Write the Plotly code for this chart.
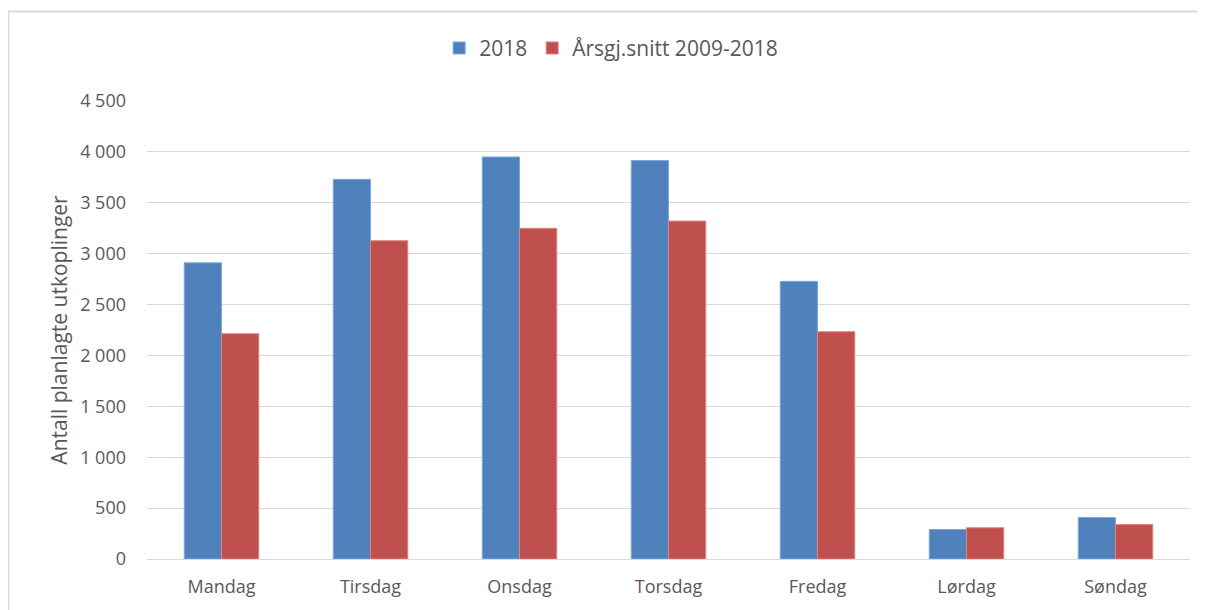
import plotly.graph_objects as go

# Antall planlagte utkoplinger per ukedag
days = ["Mandag", "Tirsdag", "Onsdag", "Torsdag", "Fredag", "Lørdag", "Søndag"]
y2018 = [2910, 3730, 3950, 3915, 2728, 290, 408]
avg_2009_2018 = [2213, 3127, 3249, 3320, 2233, 307, 338]

blue = "#4F81BD"
red = "#C0504D"
grey_text = "#595959"
font_family = "Open Sans, Liberation Sans, sans-serif"

fig = go.Figure()
fig.add_trace(go.Bar(
    x=days, y=y2018, name="2018",
    marker=dict(color=blue, line=dict(color="#7FA6D6", width=1)),
))
fig.add_trace(go.Bar(
    x=days, y=avg_2009_2018, name="Årsgj.snitt 2009-2018",
    marker=dict(color=red, line=dict(color="#D98583", width=1)),
))

# page has an 8px body margin, so the figure is a bit smaller and shifted
fig.update_layout(
    width=1197, height=602,
    margin=dict(l=139, r=15, t=93, b=51),
    paper_bgcolor="white", plot_bgcolor="white",
    font=dict(family=font_family, size=18, color=grey_text),
    separators=", ",
    barmode="group", bargap=0.5, bargroupgap=0,
    legend=dict(
        orientation="h", x=0.445, xanchor="center", y=1.115, yanchor="middle",
        font=dict(size=21, color=grey_text), itemwidth=30,
        traceorder="normal",
    ),
    xaxis=dict(
        showline=False, ticks="", tickfont=dict(size=18, color=grey_text),
        ticklabelstandoff=15,
    ),
    yaxis=dict(
        range=[0, 4500], dtick=500, tickformat=",d",
        showgrid=True, gridcolor="#D9D9D9", gridwidth=1,
        zeroline=True, zerolinecolor="#D9D9D9", zerolinewidth=1,
        showline=False, ticks="", ticklabelstandoff=20,
        tickfont=dict(size=18, color=grey_text),
        title=dict(text="Antall planlagte utkoplinger", font=dict(size=21, color=grey_text), standoff=6),
    ),
    shapes=[dict(
        type="rect", xref="paper", yref="paper",
        x0=-0.1328, x1=1.2, y0=-0.2, y1=1.1954,
        line=dict(color="#D9D9D9", width=2), fillcolor="rgba(0,0,0,0)", layer="below",
    )],
)

fig.write_html("out.html")
